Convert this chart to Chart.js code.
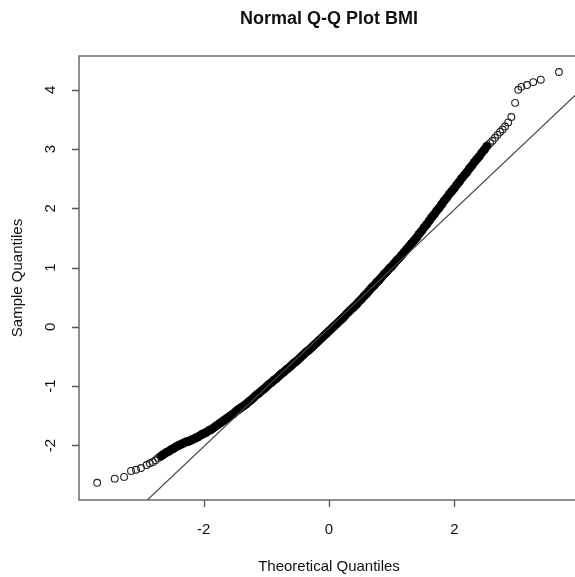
<!DOCTYPE html>
<html>
<head>
<meta charset="utf-8">
<script src="https://cdn.jsdelivr.net/npm/chart.js@4"></script>
<style>
  html, body { margin: 0; padding: 0; background: #fff; overflow: hidden; }
  #wrap { width: 590px; height: 577px; }
</style>
</head>
<body>
<div id="wrap"><canvas id="qq" width="590" height="577"></canvas></div>
<script>
// tick labels
const xTicks = [-2, 0, 2];
const yTicks = [-2, -1, 0, 1, 2, 3, 4];

// dense part of the curve (theoretical, sample)
const bandT = [-2.68,-2.64,-2.60,-2.56,-2.52,-2.48,-2.44,-2.40,-2.36,-2.32,-2.28,-2.24,-2.20,-2.16,-2.12,-2.08,-2.04,-2.00,-1.96,-1.92,
  -1.88,-1.84,-1.80,-1.76,-1.72,-1.68,-1.64,-1.60,-1.56,-1.52,-1.48,-1.44,-1.40,-1.36,-1.32,-1.28,-1.24,-1.20,-1.16,-1.12,
  -1.08,-1.04,-1.00,-0.96,-0.92,-0.88,-0.84,-0.80,-0.76,-0.72,-0.68,-0.64,-0.60,-0.56,-0.52,-0.48,-0.44,-0.40,-0.36,-0.32,
  -0.28,-0.24,-0.20,-0.16,-0.12,-0.08,-0.04,0.00,0.04,0.08,0.12,0.16,0.20,0.24,0.28,0.32,0.36,0.40,0.44,0.48,
  0.52,0.56,0.60,0.64,0.68,0.72,0.76,0.80,0.84,0.88,0.92,0.96,1.00,1.04,1.08,1.12,1.16,1.20,1.24,1.28,
  1.32,1.36,1.40,1.44,1.48,1.52,1.56,1.60,1.64,1.68,1.72,1.76,1.80,1.84,1.88,1.92,1.96,2.00,2.04,2.08,
  2.12,2.16,2.20,2.24,2.28,2.32,2.36,2.40,2.44,2.48,2.52];
const bandS = [-2.18,-2.15,-2.12,-2.10,-2.07,-2.05,-2.02,-2.00,-1.98,-1.96,-1.94,-1.93,-1.91,-1.89,-1.87,-1.85,-1.82,-1.80,-1.78,-1.75,
  -1.73,-1.70,-1.67,-1.64,-1.61,-1.58,-1.55,-1.52,-1.49,-1.46,-1.42,-1.39,-1.36,-1.33,-1.30,-1.26,-1.23,-1.19,-1.15,-1.12,
  -1.08,-1.05,-1.01,-0.97,-0.94,-0.90,-0.87,-0.83,-0.79,-0.76,-0.72,-0.69,-0.65,-0.61,-0.58,-0.54,-0.50,-0.46,-0.42,-0.39,
  -0.35,-0.31,-0.27,-0.23,-0.19,-0.15,-0.11,-0.07,-0.03,0.01,0.05,0.09,0.13,0.17,0.22,0.26,0.30,0.34,0.38,0.43,
  0.47,0.52,0.56,0.61,0.66,0.70,0.75,0.79,0.84,0.89,0.93,0.98,1.02,1.07,1.12,1.16,1.21,1.26,1.31,1.36,
  1.41,1.46,1.51,1.57,1.62,1.68,1.73,1.79,1.85,1.90,1.96,2.01,2.07,2.13,2.18,2.24,2.29,2.34,2.40,2.45,
  2.51,2.56,2.61,2.67,2.72,2.78,2.83,2.88,2.94,2.99,3.05];

// sparse tails, drawn as open circles
const lowTailT = [-3.70,-3.42,-3.27,-3.16,-3.08,-3.00,-2.91,-2.86,-2.81,-2.77,-2.73];
const lowTailS = [-2.63,-2.56,-2.53,-2.43,-2.41,-2.38,-2.33,-2.30,-2.28,-2.25,-2.21];
const highTailT = [2.57,2.61,2.65,2.69,2.73,2.77,2.81,2.86,2.91,2.97,3.02,3.07,3.16,3.26,3.38,3.67];
const highTailS = [3.10,3.14,3.19,3.24,3.29,3.33,3.38,3.45,3.54,3.78,4.00,4.05,4.08,4.13,4.17,4.30];

// qqline
const lineIntercept = -0.02;
const lineSlope = 1.0;

const xMin = -3.99, xMax = 3.99;
const yMin = -2.92, yMax = 4.57;

const zip = (a, b) => a.map((v, i) => ({ x: v, y: b[i] }));
const font = '"Liberation Sans", Arial, sans-serif';

// R-style axes, box and titles
const rAxes = {
  id: 'rAxes',
  afterDraw(chart) {
    const { ctx, chartArea: a, scales: { x, y } } = chart;
    ctx.save();
    ctx.strokeStyle = '#555';
    ctx.lineWidth = 1.3;
    ctx.strokeRect(a.left, a.top, a.right - a.left, a.bottom - a.top);

    ctx.fillStyle = '#111';
    ctx.font = '15px ' + font;
    ctx.textAlign = 'center';
    ctx.textBaseline = 'middle';

    // bottom axis
    ctx.beginPath();
    xTicks.forEach(v => {
      const px = Math.round(x.getPixelForValue(v)) + 0.5;
      ctx.moveTo(px, a.bottom);
      ctx.lineTo(px, a.bottom + 7);
    });
    ctx.stroke();
    xTicks.forEach(v => ctx.fillText(String(v), x.getPixelForValue(v), 530));

    // left axis
    ctx.beginPath();
    yTicks.forEach(v => {
      const py = Math.round(y.getPixelForValue(v)) + 0.5;
      ctx.moveTo(a.left - 7, py);
      ctx.lineTo(a.left, py);
    });
    ctx.stroke();
    yTicks.forEach(v => {
      ctx.save();
      ctx.translate(51, y.getPixelForValue(v));
      ctx.rotate(-Math.PI / 2);
      ctx.fillText(String(v), 0, 0);
      ctx.restore();
    });

    // axis titles
    ctx.fillText('Theoretical Quantiles', (a.left + a.right) / 2, 567);
    ctx.save();
    ctx.translate(18, (a.top + a.bottom) / 2);
    ctx.rotate(-Math.PI / 2);
    ctx.fillText('Sample Quantiles', 0, 0);
    ctx.restore();

    // main title
    ctx.font = 'bold 18px ' + font;
    ctx.fillText('Normal Q-Q Plot BMI', (a.left + a.right) / 2, 19);
    ctx.restore();
  }
};

new Chart(document.getElementById('qq'), {
  type: 'scatter',
  data: {
    datasets: [
      {
        type: 'line',
        data: [
          { x: xMin, y: lineIntercept + lineSlope * xMin },
          { x: xMax, y: lineIntercept + lineSlope * xMax }
        ],
        borderColor: '#444',
        borderWidth: 1.2,
        pointRadius: 0,
        fill: false
      },
      {
        data: zip(bandT, bandS),
        pointRadius: 4.2,
        borderWidth: 0.8,
        borderColor: '#000',
        backgroundColor: '#000'
      },
      {
        data: zip(lowTailT, lowTailS).concat(zip(highTailT, highTailS)),
        pointRadius: 3.4,
        borderWidth: 1.1,
        borderColor: '#222',
        backgroundColor: 'rgba(0,0,0,0)'
      }
    ]
  },
  options: {
    responsive: false,
    animation: false,
    devicePixelRatio: 1,
    layout: { padding: { left: 79, top: 56, right: 11, bottom: 77 } },
    plugins: { legend: { display: false }, tooltip: { enabled: false } },
    scales: {
      x: { type: 'linear', min: xMin, max: xMax, display: false },
      y: { type: 'linear', min: yMin, max: yMax, display: false }
    }
  },
  plugins: [rAxes]
});
</script>
</body>
</html>
